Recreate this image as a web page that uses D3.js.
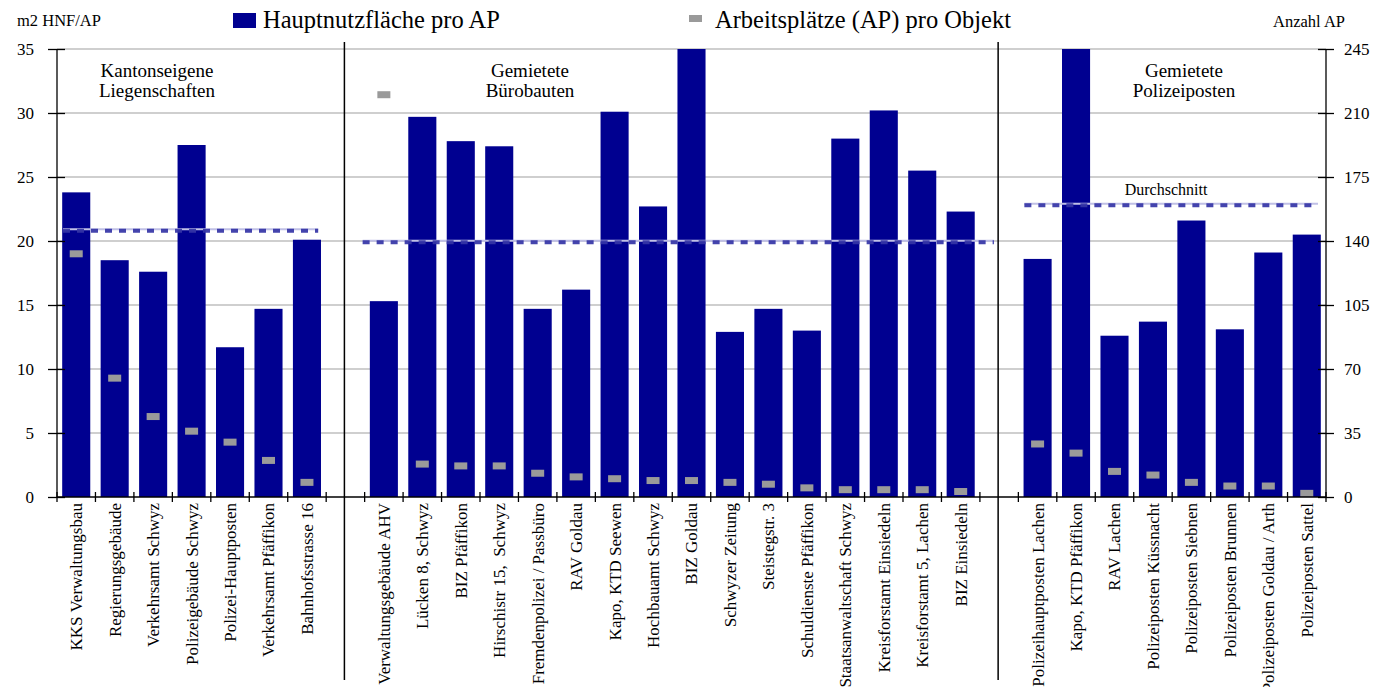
<!DOCTYPE html>
<html>
<head>
<meta charset="utf-8">
<script src="https://cdn.jsdelivr.net/npm/d3@7"></script>
<style>
  body { margin: 0; background: #fff; }
  svg text { font-family: "Liberation Serif", "Times New Roman", serif; fill: #000; }
</style>
</head>
<body>
<svg id="chart" width="1378" height="687"></svg>
<script>
// groups of objects
var groupTitles = [["Kantonseigene", "Liegenschaften"], ["Gemietete", "Bürobauten"], ["Gemietete", "Polizeiposten"]];

var cats1 = ["KKS Verwaltungsbau", "Regierungsgebäude", "Verkehrsamt Schwyz", "Polizeigebäude Schwyz",
  "Polizei-Hauptposten", "Verkehrsamt Pfäffikon", "Bahnhofsstrasse 16"];
var hnf1 = [23.8, 18.5, 17.6, 27.5, 11.7, 14.7, 20.1];
var ap1 = [133, 65, 44, 36, 30, 20, 8];

var cats2 = ["Verwaltungsgebäude AHV", "Lücken 8, Schwyz", "BIZ Pfäffikon", "Hirschistr 15,  Schwyz",
  "Fremdenpolizei / Passbüro", "RAV Goldau", "Kapo, KTD Seewen", "Hochbauamt Schwyz", "BIZ Goldau",
  "Schwyzer Zeitung", "Steistegstr. 3", "Schuldienste Pfäffikon", "Staatsanwaltschaft Schwyz",
  "Kreisforstamt Einsiedeln", "Kreisforstamt 5, Lachen", "BIZ Einsiedeln"];
var hnf2 = [15.3, 29.7, 27.8, 27.4, 14.7, 16.2, 30.1, 22.7, 35, 12.9, 14.7, 13.0, 28.0, 30.2, 25.5, 22.3];
var ap2 = [220, 18, 17, 17, 13, 11, 10, 9, 9, 8, 7, 5, 4, 4, 4, 3];

var cats3 = ["Polizeihauptposten Lachen", "Kapo, KTD Pfäffikon", "RAV Lachen", "Polizeiposten Küssnacht",
  "Polizeiposten Siebnen", "Polizeiposten Brunnen", "Polizeiposten Goldau / Arth", "Polizeiposten Sattel"];
var hnf3 = [18.6, 35, 12.6, 13.7, 21.6, 13.1, 19.1, 20.5];
var ap3 = [29, 24, 14, 12, 8, 6, 6, 2];

var averages = [20.8, 19.9, 22.8];

var leftTicks = [0, 5, 10, 15, 20, 25, 30, 35];
var rightTicks = [0, 35, 70, 105, 140, 175, 210, 245];

var svg = d3.select("#chart");
var pLeft = 57, pRight = 1326, pTop = 49, pBottom = 497;
var barColor = "#000090", apColor = "#9a9a9a";
var serif = "'Liberation Serif', 'Times New Roman', serif";

var groups = [
  {cats: cats1, hnf: hnf1, ap: ap1},
  {cats: cats2, hnf: hnf2, ap: ap2},
  {cats: cats3, hnf: hnf3, ap: ap3}
];

// slot domain: groups separated by one empty slot
var slots = [];
groups.forEach(function(g, i) {
  if (i > 0) slots.push("gap" + i);
  g.cats.forEach(function(c) { slots.push(c); });
});

var x = d3.scaleBand().domain(slots).range([pLeft, pRight]).paddingInner(0.27).paddingOuter(0.135);
var step = x.step();
// left edge of a slot
var slotLeft = function(k) { return pLeft + slots.indexOf(k) * step; };

var yL = d3.scaleLinear().domain([0, 35]).range([pBottom, pTop]).clamp(true);
var yR = d3.scaleLinear().domain([0, 245]).range([pBottom, pTop]);

// grid
svg.append("g").selectAll("line").data(leftTicks.slice(1)).enter().append("line")
  .attr("x1", pLeft).attr("x2", pRight)
  .attr("y1", function(d) { return yL(d); }).attr("y2", function(d) { return yL(d); })
  .attr("stroke", "#a0a0a0").attr("stroke-width", 1.2);

// bars
var rows = [];
groups.forEach(function(g) {
  g.cats.forEach(function(c, i) { rows.push({cat: c, hnf: g.hnf[i], ap: g.ap[i]}); });
});

svg.append("g").selectAll("rect").data(rows).enter().append("rect")
  .attr("x", function(d) { return x(d.cat); })
  .attr("width", x.bandwidth())
  .attr("y", function(d) { return yL(d.hnf); })
  .attr("height", function(d) { return pBottom - yL(d.hnf); })
  .attr("fill", barColor);

// average lines
var avgG = svg.append("g");
groups.forEach(function(g, i) {
  var first = g.cats[0], last = g.cats[g.cats.length - 1];
  var x1 = slotLeft(first) + (i === 1 ? -2 : 6);
  var x2 = slotLeft(last) + step + (i === 1 ? 14 : -8);
  var yy = yL(averages[i]);
  avgG.append("line").attr("x1", x1).attr("x2", x2).attr("y1", yy - 1.5).attr("y2", yy - 1.5)
    .attr("stroke", "#c0c0e6").attr("stroke-width", 2);
  avgG.append("line").attr("x1", x1).attr("x2", x2).attr("y1", yy).attr("y2", yy)
    .attr("stroke", "#3434a6").attr("stroke-opacity", 0.92).attr("stroke-width", 4)
    .attr("stroke-dasharray", "7,7");
});

svg.append("text")
  .attr("x", 1166).attr("y", yL(averages[2]) - 10)
  .attr("text-anchor", "middle").style("font-size", "16px")
  .text("Durchschnitt");

// AP markers
svg.append("g").selectAll("rect").data(rows).enter().append("rect")
  .attr("x", function(d) { return x(d.cat) + x.bandwidth() / 2 - 6.5; })
  .attr("y", function(d) { return yR(d.ap) - 3.5; })
  .attr("width", 13).attr("height", 7)
  .attr("fill", apColor);

// separators
var seps = slots.filter(function(s) { return s.indexOf("gap") === 0; });
svg.append("g").selectAll("line").data(seps).enter().append("line")
  .attr("x1", function(d) { return slotLeft(d) + step / 2 - 1; })
  .attr("x2", function(d) { return slotLeft(d) + step / 2 - 1; })
  .attr("y1", 42).attr("y2", 680)
  .attr("stroke", "#000").attr("stroke-width", 1.5);

// axes
var axL = svg.append("g").attr("transform", "translate(" + pLeft + ",0)")
  .call(d3.axisLeft(yL).tickValues(leftTicks).tickSize(9).tickPadding(14));
axL.selectAll(".tick line").clone().attr("x2", 8);
var axR = svg.append("g").attr("transform", "translate(" + pRight + ",0)")
  .call(d3.axisRight(yR).tickValues(rightTicks).tickSize(8).tickPadding(10));
axR.selectAll(".tick line").clone().attr("x2", -8);
[axL, axR].forEach(function(a) {
  a.attr("font-family", serif).attr("font-size", 17);
  a.select(".domain").attr("d", "M0," + pTop + "V" + pBottom).attr("stroke-width", 1.3);
  a.selectAll("text").style("font-size", "17px").style("font-family", serif);
  a.selectAll("line").attr("stroke-width", 1.3);
});

// bottom axis with boundary ticks
svg.append("line").attr("x1", pLeft).attr("x2", pRight).attr("y1", pBottom).attr("y2", pBottom)
  .attr("stroke", "#000").attr("stroke-width", 1.3);
var bounds = d3.range(slots.length + 1);
svg.append("g").selectAll("line").data(bounds).enter().append("line")
  .attr("x1", function(i) { return pLeft + i * step; })
  .attr("x2", function(i) { return pLeft + i * step; })
  .attr("y1", pBottom - 5).attr("y2", pBottom + 5)
  .attr("stroke", "#000").attr("stroke-width", 1.3);

svg.append("g").selectAll("text").data(rows).enter().append("text")
  .attr("transform", function(d) {
    return "translate(" + (x(d.cat) + x.bandwidth() / 2) + "," + (pBottom + 6) + ") rotate(-90)";
  })
  .attr("text-anchor", "end").attr("dy", "0.35em")
  .style("font-size", "17px").style("white-space", "pre")
  .text(function(d) { return d.cat; });

// group titles
var titleX = [157, 530, 1184];
groupTitles.forEach(function(t, i) {
  var tt = svg.append("text").attr("text-anchor", "middle").style("font-size", "19px");
  t.forEach(function(line, j) {
    tt.append("tspan").attr("x", titleX[i]).attr("y", 77 + j * 20).text(line);
  });
});

// axis titles
svg.append("text").attr("x", 17).attr("y", 26).style("font-size", "16.5px").text("m2 HNF/AP");
svg.append("text").attr("x", 1345).attr("y", 27).attr("text-anchor", "end").style("font-size", "16.5px").text("Anzahl AP");

// legend
svg.append("rect").attr("x", 233).attr("y", 13).attr("width", 23).attr("height", 15).attr("fill", barColor);
svg.append("text").attr("x", 263).attr("y", 28).style("font-size", "24.5px").text("Hauptnutzfläche pro AP");
svg.append("rect").attr("x", 689).attr("y", 15).attr("width", 13).attr("height", 7).attr("fill", apColor);
svg.append("text").attr("x", 715).attr("y", 28).style("font-size", "24.5px").text("Arbeitsplätze (AP) pro Objekt");
</script>
</body>
</html>
